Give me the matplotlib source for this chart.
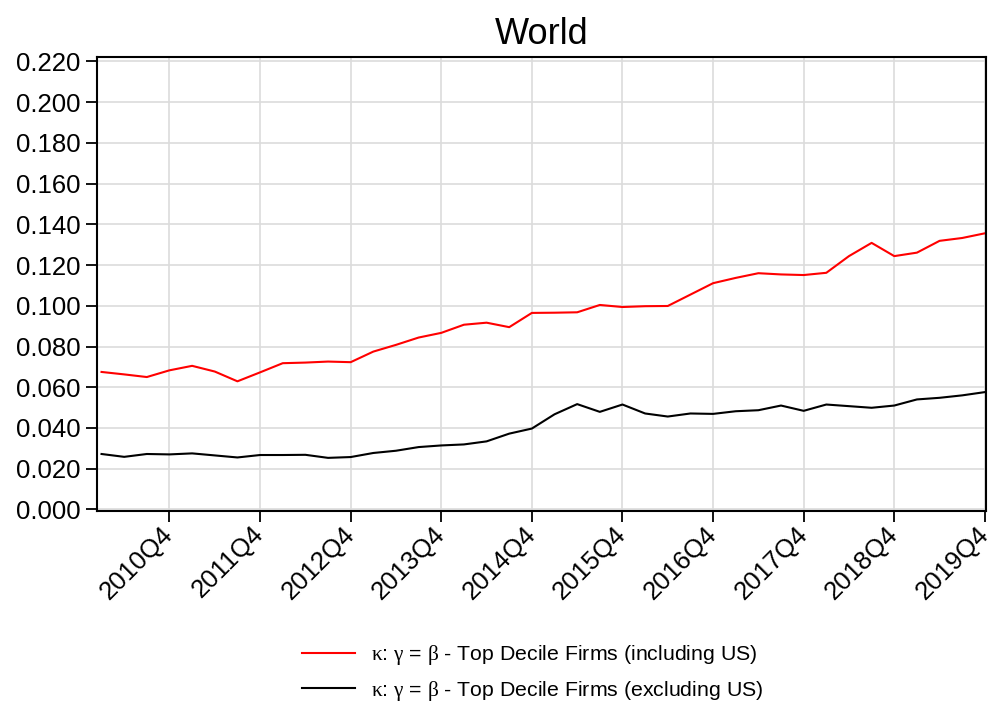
import matplotlib
matplotlib.use("Agg")
import matplotlib.pyplot as plt
import numpy as np

plt.rcParams['font.family'] = ['Liberation Sans', 'DejaVu Sans']
plt.rcParams['mathtext.fontset'] = 'custom'
plt.rcParams['mathtext.rm'] = 'Liberation Serif'

quarters = [f"{y}Q{q}" for y in range(2010, 2020) for q in range(1, 5)]

incl_us = [0.0675, 0.0663, 0.0650, 0.0683, 0.0705, 0.0677, 0.0629, 0.0673,
           0.0718, 0.0721, 0.0726, 0.0723, 0.0775, 0.0808, 0.0844, 0.0867,
           0.0907, 0.0917, 0.0895, 0.0965, 0.0966, 0.0968, 0.1004, 0.0994,
           0.0998, 0.0999, 0.1055, 0.1111, 0.1137, 0.1160, 0.1154, 0.1151,
           0.1162, 0.1244, 0.1309, 0.1244, 0.1261, 0.1319, 0.1333, 0.1356]

excl_us = [0.0272, 0.0258, 0.0272, 0.0270, 0.0275, 0.0265, 0.0255, 0.0267,
           0.0267, 0.0268, 0.0253, 0.0257, 0.0277, 0.0288, 0.0306, 0.0314,
           0.0319, 0.0334, 0.0372, 0.0397, 0.0467, 0.0517, 0.0479, 0.0515,
           0.0471, 0.0456, 0.0471, 0.0469, 0.0482, 0.0487, 0.0510, 0.0484,
           0.0515, 0.0507, 0.0499, 0.0510, 0.0540, 0.0548, 0.0560, 0.0576]

labels = [r"$\mathrm{\kappa}$: $\mathrm{\gamma}$ = $\mathrm{\beta}$ - Top Decile Firms (including US)",
          r"$\mathrm{\kappa}$: $\mathrm{\gamma}$ = $\mathrm{\beta}$ - Top Decile Firms (excluding US)"]

yticks = [0.000, 0.020, 0.040, 0.060, 0.080, 0.100, 0.120, 0.140, 0.160, 0.180, 0.200, 0.220]

fig = plt.figure(figsize=(9.91, 7.06), dpi=100)
ax = fig.add_axes([97/991, 1 - 511/706, (986 - 97)/991, (511 - 57)/706])

x = np.arange(len(quarters))
ax.plot(x, incl_us, color='#ff0000', lw=1.5, label=labels[0])
ax.plot(x, excl_us, color='black', lw=1.5, label=labels[1])

xt = [i for i, q in enumerate(quarters) if q.endswith("Q4")]
ax.set_xticks(xt)
ax.set_xticklabels([quarters[i] for i in xt], rotation=45, ha='right', va='center',
                   rotation_mode='anchor', fontsize=18.5)
ax.set_xlim(-0.2, 39.05)
ax.set_yticks(yticks)
ax.set_yticklabels([f"{v:.3f}" for v in yticks], fontsize=18.5)
ax.set_ylim(-0.0008, 0.2222)

ax.grid(True, color='#dcdcdc', lw=1.2)
ax.set_axisbelow(True)
for s in ax.spines.values():
    s.set_linewidth(1.5)
ax.tick_params(axis='y', direction='out', length=8, width=1.3, pad=4)
ax.tick_params(axis='x', direction='out', length=8, width=1.3, pad=6)

ax.set_title("World", fontsize=26, pad=9)

fig.legend(loc='center', bbox_to_anchor=(533/991, 1 - 673/706), frameon=False,
           fontsize=15.3, handlelength=2.5, handletextpad=0.75, labelspacing=0.55)

fig.savefig("out.png", dpi=100)
